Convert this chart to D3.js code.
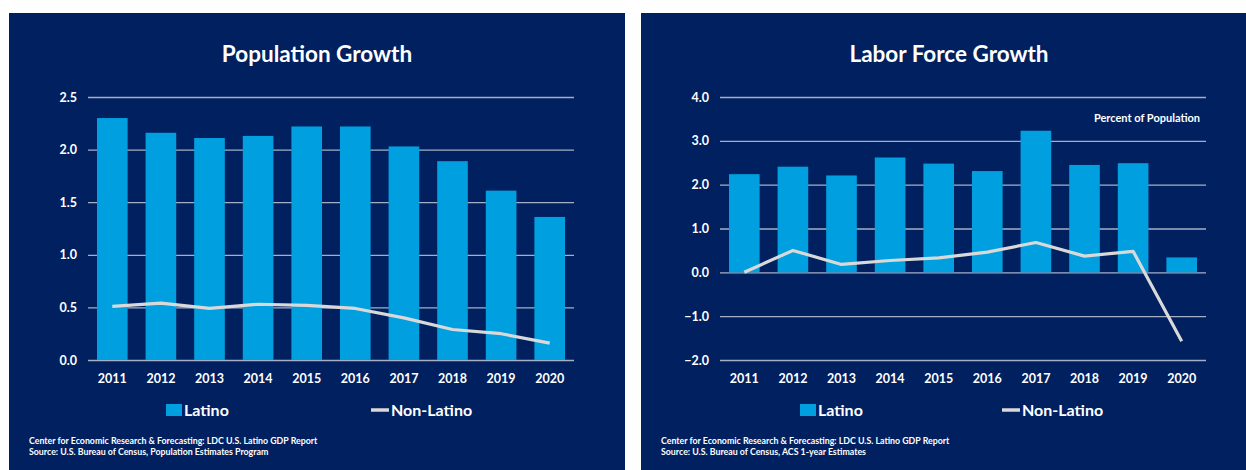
<!DOCTYPE html>
<html><head><meta charset="utf-8">
<script src="https://cdn.jsdelivr.net/npm/d3@7"></script>
<style>
html,body{margin:0;padding:0;background:#fff;}
svg{display:block;}
text{font-family:Lato,"Open Sans",sans-serif;font-weight:bold;fill:#fff;}
</style></head>
<body>
<svg id="chart" width="1246" height="470"></svg>
<script>
const years = ["2011","2012","2013","2014","2015","2016","2017","2018","2019","2020"];
const popLatino = [2.30,2.16,2.11,2.13,2.22,2.22,2.03,1.89,1.61,1.36];
const popNonLatino = [0.51,0.54,0.49,0.53,0.52,0.49,0.40,0.29,0.25,0.16];
const popTicks = [0.0,0.5,1.0,1.5,2.0,2.5];
const labLatino = [2.24,2.41,2.21,2.62,2.48,2.31,3.23,2.45,2.49,0.34];
const labNonLatino = [0.00,0.50,0.18,0.27,0.33,0.46,0.68,0.37,0.48,-1.57];
const labTicks = [-2.0,-1.0,0.0,1.0,2.0,3.0,4.0];

const NAVY = "#002060", BAR = "#009FDF", LINE = "#D9D9D9", GRID = "#A6AEC6";
const svg = d3.select("#chart");

function panel(o){
  const g = svg.append("g");
  g.append("rect").attr("x",o.px).attr("y",13).attr("width",o.pw).attr("height",470).attr("fill",NAVY);
  g.append("text").attr("x",o.titleX).attr("y",62).attr("text-anchor","middle")
    .style("font-size","22.5px").text(o.title);
  const x = d3.scaleBand().domain(years).range([o.x0,o.x0+486]).paddingInner(0.37).paddingOuter(0.185);
  const y = d3.scaleLinear().domain(o.domain).range([360,97]);
  const yAxis = g.append("g").attr("transform",`translate(${o.x0},0)`)
    .call(d3.axisLeft(y).tickValues(o.ticks).tickFormat(d3.format(".1f")).tickSize(-486).tickPadding(11));
  yAxis.select(".domain").remove();
  yAxis.selectAll("line").attr("stroke",GRID).attr("stroke-width",1.3);
  yAxis.selectAll("text").style("font-size","12.5px").attr("fill","#fff").style("font-family","Lato,sans-serif").style("font-weight","bold");
  g.selectAll(".bar").data(o.bars).enter().append("rect")
    .attr("x",(d,i)=>x(years[i])).attr("width",x.bandwidth())
    .attr("y",d=>y(Math.max(0,d))).attr("height",d=>Math.abs(y(d)-y(0)))
    .attr("fill",BAR);
  const line = d3.line().x((d,i)=>x(years[i])+x.bandwidth()/2).y(d=>y(d));
  g.append("path").datum(o.line).attr("d",line).attr("fill","none")
    .attr("stroke",LINE).attr("stroke-width",3.2).attr("stroke-linejoin","round");
  const xAxis = g.append("g").attr("transform",`translate(0,360)`)
    .call(d3.axisBottom(x).tickSize(0).tickPadding(14));
  xAxis.select(".domain").remove();
  xAxis.selectAll("text").style("font-size","12.5px").attr("fill","#fff").style("font-family","Lato,sans-serif").style("font-weight","bold");
  // legend
  g.append("rect").attr("x",o.lg1).attr("y",404).attr("width",16).attr("height",12).attr("fill",BAR);
  g.append("text").attr("x",o.lg1+18).attr("y",416).style("font-size","16px").text("Latino");
  g.append("line").attr("x1",o.lg2).attr("x2",o.lg2+18).attr("y1",410).attr("y2",410)
    .attr("stroke",LINE).attr("stroke-width",3.5);
  g.append("text").attr("x",o.lg2+20).attr("y",416).style("font-size","16px").text("Non-Latino");
  g.append("text").attr("x",o.srcX).attr("y",444).style("font-size","8.8px").text("Center for Economic Research & Forecasting: LDC U.S. Latino GDP Report");
  g.append("text").attr("x",o.srcX).attr("y",455).style("font-size","8.8px").text(o.source);
  return {g,x,y};
}

panel({px:9,pw:616,x0:88,titleX:317,title:"Population Growth",domain:[0,2.5],ticks:popTicks,
  bars:popLatino,line:popNonLatino,lg1:166,lg2:371,srcX:29,
  source:"Source: U.S. Bureau of Census, Population Estimates Program"});
const r = panel({px:641,pw:605,x0:720,titleX:949,title:"Labor Force Growth",domain:[-2,4],ticks:labTicks,
  bars:labLatino,line:labNonLatino,lg1:800,lg2:1002,srcX:661,
  source:"Source: U.S. Bureau of Census, ACS 1-year Estimates"});
r.g.append("text").attr("x",1200).attr("y",122).attr("text-anchor","end").style("font-size","11px").text("Percent of Population");
</script>
</body></html>
